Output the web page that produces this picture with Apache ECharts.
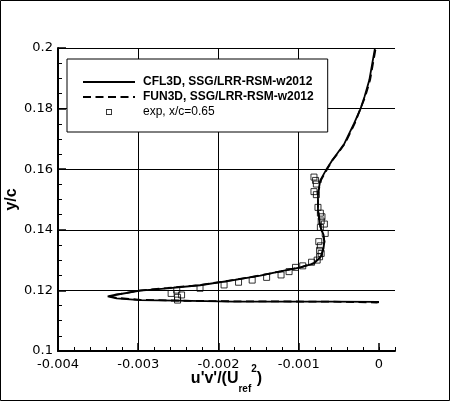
<!DOCTYPE html>
<html><head><meta charset="utf-8">
<script src="https://cdn.jsdelivr.net/npm/echarts@6/dist/echarts.min.js"></script>
<style>html,body{margin:0;padding:0;background:#fff}#c{width:450px;height:401px}</style>
</head><body><div id="c"></div>
<script>
const seriesNames = ['CFL3D, SSG/LRR-RSM-w2012', 'FUN3D, SSG/LRR-RSM-w2012', 'exp, x/c=0.65'];
const xTicks = [-0.004, -0.003, -0.002, -0.001, 0];
const yTicks = [0.1, 0.12, 0.14, 0.16, 0.18, 0.2];

const cflX = [0, -0.00002, -0.0006, -0.00181, -0.00252, -0.002975, -0.00327, -0.00338, -0.00331, -0.002975, -0.00264, -0.00223, -0.00181, -0.00148, -0.00123, -0.000975, -0.00081, -0.000725, -0.00069, -0.00068, -0.00069, -0.00073, -0.00076, -0.00076, -0.00073, -0.00066, -0.00058, -0.00052, -0.00043, -0.00031, -0.00023, -0.00018, -0.00012, -0.00005];
const cflY = [0.1162, 0.1160, 0.1163, 0.1163, 0.1166, 0.1168, 0.1174, 0.1180, 0.1184, 0.1199, 0.1207, 0.1217, 0.1234, 0.1249, 0.1263, 0.1276, 0.1289, 0.1311, 0.1340, 0.1361, 0.1383, 0.1410, 0.1465, 0.1520, 0.1564, 0.1597, 0.1630, 0.1652, 0.1685, 0.1751, 0.1799, 0.1839, 0.1894, 0.1999];

const funX = [0, -0.00003, -0.0006, -0.00180, -0.00250, -0.00297, -0.00326, -0.00336, -0.00330, -0.00297, -0.00263, -0.00222, -0.00180, -0.00147, -0.00122, -0.00097, -0.00081, -0.00072, -0.00069, -0.00068, -0.00070, -0.00073, -0.00076, -0.00076, -0.00072, -0.00065, -0.00058, -0.00051, -0.00042, -0.00030, -0.00023, -0.00017, -0.00011, -0.00004];
const funY = [0.1161, 0.1160, 0.1163, 0.1164, 0.1166, 0.1169, 0.1175, 0.1181, 0.1185, 0.1200, 0.1208, 0.1218, 0.1235, 0.1250, 0.1263, 0.1277, 0.1290, 0.1312, 0.1340, 0.1362, 0.1384, 0.1411, 0.1466, 0.1521, 0.1565, 0.1598, 0.1630, 0.1653, 0.1686, 0.1752, 0.1800, 0.1840, 0.1895, 0.2000];

const expX = [-0.00081, -0.00079, -0.00078, -0.00081, -0.00078, -0.00076, -0.00073, -0.00071, -0.00072, -0.00068, -0.00073, -0.00067, -0.00075, -0.00073, -0.00074, -0.00072, -0.00074, -0.00077, -0.00084, -0.00095, -0.00104, -0.00112, -0.00122, -0.00140, -0.00158, -0.00175, -0.00193, -0.00223, -0.00252, -0.00259, -0.00246, -0.00251, -0.00251];
const expY = [0.1574, 0.1563, 0.1551, 0.1526, 0.1516, 0.1474, 0.1455, 0.1443, 0.1429, 0.1419, 0.1408, 0.1388, 0.1361, 0.1347, 0.1332, 0.1322, 0.1311, 0.1300, 0.1293, 0.1281, 0.1276, 0.1262, 0.1251, 0.1243, 0.1234, 0.1227, 0.1218, 0.1207, 0.1201, 0.1190, 0.1185, 0.1177, 0.1168];

const zip = (a, b) => a.map((v, i) => [v, b[i]]);
const chart = echarts.init(document.getElementById('c'), null, {renderer: 'canvas'});
const tickFont = {color: '#000', fontFamily: 'DejaVu Sans', fontSize: 13};
const hideSym = {color: 'rgba(0,0,0,0)', borderWidth: 0, opacity: 0};
const option = {
  animation: false,
  backgroundColor: '#fff',
  grid: {left: 58, right: 55, top: 48, bottom: 50, containLabel: false, outerBoundsMode: 'none'},
  graphic: [{type: 'rect', shape: {x: 0.5, y: 0.5, width: 449, height: 400}, style: {fill: 'none', stroke: '#000', lineWidth: 1}, z: 100}],
  legend: {
    orient: 'vertical', left: 67, top: 59,
    itemWidth: 52, itemHeight: 6, itemGap: 3,
    padding: [17, 14, 14, 15],
    backgroundColor: '#fff', borderColor: '#000', borderWidth: 1, borderRadius: 0,
    formatter: name => name === seriesNames[2] ? '{n|' + name + '}' : '{b|' + name + '}',
    textStyle: {fontFamily: 'Liberation Sans', fontSize: 12, color: '#000', rich: {
      b: {fontFamily: 'Liberation Sans', fontSize: 12, fontWeight: 'bold', color: '#000', padding: [0, 0, 0, 3]},
      n: {fontFamily: 'Liberation Sans', fontSize: 12, color: '#000', padding: [0, 0, 0, 3]}
    }},
    symbolKeepAspect: true,
    data: [
      {name: seriesNames[0], itemStyle: hideSym},
      {name: seriesNames[1], itemStyle: hideSym},
      {name: seriesNames[2], icon: 'path://M0,0H10V10H0ZM1.6,1.6V8.4H8.4V1.6Z', itemStyle: {color: '#000', borderWidth: 0}}
    ]
  },
  xAxis: [{
    type: 'value', min: -0.004, max: 0.0002, interval: 0.001, position: 'bottom',
    axisLine: {onZero: false, lineStyle: {color: '#000', width: 2}},
    axisTick: {inside: true, length: 8, customValues: xTicks, lineStyle: {color: '#000', width: 1.5}},
    axisLabel: Object.assign({customValues: xTicks, margin: 7, formatter: v => v === 0 ? '0' : String(+(+v).toFixed(3))}, tickFont),
    splitLine: {show: true, showMinLine: false, showMaxLine: false, lineStyle: {color: '#000', width: 1}},
    name: "{a|u'v'/(U}{s|ref}{p|2}{a|)}", nameLocation: 'middle', nameGap: 13, nameMoveOverlap: false,
    nameTextStyle: {rich: {
      a: {fontFamily: 'Liberation Sans', fontWeight: 'bold', fontSize: 16, lineHeight: 30, color: '#000'},
      s: {fontFamily: 'Liberation Sans', fontWeight: 'bold', fontSize: 10, lineHeight: 2, verticalAlign: 'bottom', color: '#000'},
      p: {fontFamily: 'Liberation Sans', fontWeight: 'bold', fontSize: 10, lineHeight: 29, verticalAlign: 'top', color: '#000'}
    }}
  }, {
    type: 'value', min: -0.004, max: 0.0002, interval: 0.0002, position: 'bottom',
    axisLine: {show: false}, axisLabel: {show: false}, splitLine: {show: false},
    axisTick: {inside: true, length: 4, lineStyle: {color: '#000', width: 1}}
  }],
  yAxis: {
    type: 'value', min: 0.1, max: 0.2, interval: 0.02,
    axisLine: {show: true, onZero: false, lineStyle: {color: '#000', width: 2}},
    axisTick: {show: true, inside: true, length: 8, lineStyle: {color: '#000', width: 1.5}},
    minorTick: {show: true, splitNumber: 4, length: 4, lineStyle: {color: '#000', width: 1}},
    splitLine: {show: true, showMinLine: false, lineStyle: {color: '#000', width: 1}},
    axisLabel: Object.assign({margin: 5, formatter: v => String(+(+v).toFixed(2))}, tickFont),
    name: 'y/c', nameLocation: 'middle', nameGap: 38, nameRotate: 90, nameMoveOverlap: false,
    nameTextStyle: {fontFamily: 'Liberation Sans', fontWeight: 'bold', fontSize: 16, color: '#000'}
  },
  series: [
    {name: seriesNames[0], type: 'line', data: zip(cflX, cflY), symbol: 'none', smooth: false,
     lineStyle: {color: '#000', width: 1.8, type: 'solid'}, itemStyle: {color: '#000'}},
    {name: seriesNames[1], type: 'line', data: zip(funX, funY), symbol: 'none', smooth: false,
     lineStyle: {color: '#000', width: 1.8, type: [8, 4.5]}, itemStyle: {color: '#000'}},
    {name: seriesNames[2], type: 'scatter', data: zip(expX, expY), symbol: 'rect', symbolSize: 6,
     itemStyle: {color: 'rgba(255,255,255,0)', borderColor: '#000', borderWidth: 1}}
  ]
};
chart.setOption(option);
</script></body></html>
